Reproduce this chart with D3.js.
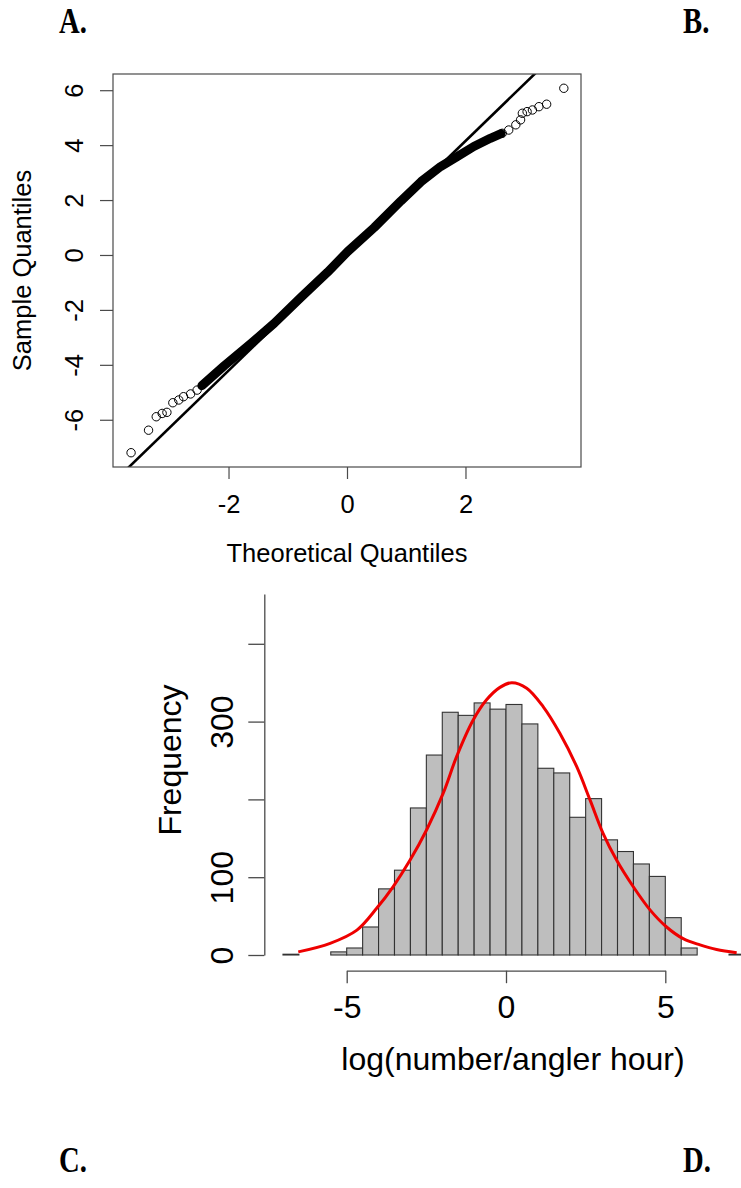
<!DOCTYPE html>
<html>
<head>
<meta charset="utf-8">
<script src="https://cdn.jsdelivr.net/npm/d3@7"></script>
<style>
  body { margin: 0; background: #fff; }
  svg { display: block; }
</style>
</head>
<body>
<div id="figure"></div>
<script>
// ---------- panel A : normal Q-Q plot ----------
// isolated circles in the two tails
const tailTheo   = [-3.645, -3.35, -3.22, -3.12, -3.04, -2.94, -2.84, -2.76, -2.64, -2.53,
                     2.62, 2.73, 2.85, 2.93, 2.96, 3.04, 3.13, 3.24, 3.37, 3.66];
const tailSample = [-7.20, -6.38, -5.89, -5.77, -5.73, -5.38, -5.28, -5.16, -5.06, -4.92,
                     4.43, 4.55, 4.74, 4.92, 5.16, 5.22, 5.28, 5.40, 5.49, 6.07];
// centre of the solid run of overlapping circles
const bandTheo   = [-2.45, -2.07, -1.62, -1.23, -0.78, -0.33, 0.01, 0.46, 0.91, 1.25, 1.58, 1.86, 2.14, 2.42, 2.60];
const bandSample = [-4.76, -4.03, -3.22, -2.49, -1.55, -0.63, 0.12, 1.00, 1.97, 2.67, 3.22, 3.58, 3.95, 4.25, 4.42];
// qqline
const qqIntercept = -0.03;
const qqSlope = 2.09;
const qqXTicks = [-2, 0, 2];
const qqYTicks = [-6, -4, -2, 0, 2, 4, 6];

// ---------- panel C : histogram with fitted normal curve ----------
const binEdges  = [-7, -6.5, -6, -5.5, -5, -4.5, -4, -3.5, -3, -2.5, -2, -1.5, -1, -0.5, 0,
                   0.5, 1, 1.5, 2, 2.5, 3, 3.5, 4, 4.5, 5, 5.5, 6, 6.5, 7, 7.5];
const binCounts = [1, 0, 0, 4, 9, 36, 85, 109, 189, 257, 312, 308, 324, 316, 322,
                   297, 240, 234, 177, 201, 148, 133, 117, 101, 48, 9, 0, 0, 1];
const curveX = [-6.52, -5.52, -4.68, -4.06, -3.54, -3.01, -2.49, -1.97, -1.55, -1.03, -0.61, -0.19, 0.18,
                0.65, 1.17, 1.69, 2.22, 2.64, 3.05, 3.47, 3.99, 4.52, 5.04, 5.56, 6.09, 6.61, 7.24];
const curveY = [4, 15, 32, 60, 88, 122, 161, 208, 255, 302, 328, 344, 350,
                343, 319, 285, 242, 199, 156, 122, 88, 58, 36, 21, 13, 7, 3];
const histXTicks = [-5, 0, 5];
const histYTicks = [0, 100, 200, 300, 400];
const histYLabels = [0, 100, 300];

const width = 741, height = 1188;
const sans = "'Liberation Sans', Arial, sans-serif";
const axisColor = "#4a4a4a";
const plainNum = d => String(d);   // R prints an ascii hyphen, not d3's minus sign

const svg = d3.select("#figure").append("svg")
    .attr("width", width)
    .attr("height", height);
svg.append("rect").attr("width", width).attr("height", height).attr("fill", "#fff");

// panel letters (condensed bold serif)
const letters = [
  {t: "A.", x: 59, y: 33}, {t: "B.", x: 683, y: 33},
  {t: "C.", x: 59, y: 1172}, {t: "D.", x: 683, y: 1172}
];
svg.selectAll(".letter")
  .data(letters)
  .join("text")
    .attr("class", "letter")
    .attr("transform", d => `translate(${d.x},${d.y}) scale(0.82,1)`)
    .style("font-family", "'Liberation Serif', 'Times New Roman', serif")
    .style("font-weight", 700)
    .style("font-size", "35px")
    .text(d => d.t);

// ================= Q-Q plot =================
const qq = {left: 113, top: 74, right: 581, bottom: 467};
const xQ = d3.scaleLinear([-3.95, 3.95], [qq.left, qq.right]);
const yQ = d3.scaleLinear([-7.72, 6.59], [qq.bottom, qq.top]);

svg.append("defs").append("clipPath")
    .attr("id", "qqclip")
  .append("rect")
    .attr("x", qq.left).attr("y", qq.top)
    .attr("width", qq.right - qq.left).attr("height", qq.bottom - qq.top);

const qqPlot = svg.append("g").attr("clip-path", "url(#qqclip)");

// dense body of the sample
qqPlot.append("path")
    .datum(d3.range(bandTheo.length))
    .attr("fill", "none")
    .attr("stroke", "#000")
    .attr("stroke-width", 9)
    .attr("stroke-linecap", "round")
    .attr("stroke-linejoin", "round")
    .attr("d", d3.line(i => xQ(bandTheo[i]), i => yQ(bandSample[i])));

// reference line
const qx0 = -3.95, qx1 = 3.95;
qqPlot.append("line")
    .attr("x1", xQ(qx0)).attr("y1", yQ(qqIntercept + qqSlope * qx0))
    .attr("x2", xQ(qx1)).attr("y2", yQ(qqIntercept + qqSlope * qx1))
    .attr("stroke", "#000")
    .attr("stroke-width", 2.6);

qqPlot.append("g")
  .selectAll("circle")
  .data(d3.range(tailTheo.length))
  .join("circle")
    .attr("cx", i => xQ(tailTheo[i]))
    .attr("cy", i => yQ(tailSample[i]))
    .attr("r", 4.2)
    .attr("fill", "none")
    .attr("stroke", "#000")
    .attr("stroke-width", 1);

svg.append("rect")
    .attr("x", qq.left).attr("y", qq.top)
    .attr("width", qq.right - qq.left).attr("height", qq.bottom - qq.top)
    .attr("fill", "none")
    .attr("stroke", axisColor)
    .attr("stroke-width", 1.2);

const qqXAxis = svg.append("g")
    .attr("transform", `translate(0,${qq.bottom})`)
    .call(d3.axisBottom(xQ).tickValues(qqXTicks).tickSize(12).tickFormat(plainNum));
qqXAxis.select(".domain").remove();
qqXAxis.selectAll(".tick line").attr("stroke", axisColor).attr("stroke-width", 1.2);
qqXAxis.selectAll(".tick text")
    .attr("y", 46).attr("dy", 0)
    .attr("fill", "#000")
    .style("font-family", sans)
    .style("font-size", "25.5px");

const qqYAxis = svg.append("g")
    .attr("transform", `translate(${qq.left},0)`)
    .call(d3.axisLeft(yQ).tickValues(qqYTicks).tickSize(13).tickFormat(plainNum));
qqYAxis.select(".domain").remove();
qqYAxis.selectAll(".tick line").attr("stroke", axisColor).attr("stroke-width", 1.2);
qqYAxis.selectAll(".tick text")
    .attr("x", 0).attr("dy", 0)
    .attr("text-anchor", "middle")
    .attr("transform", "translate(-30,0) rotate(-90)")
    .attr("fill", "#000")
    .style("font-family", sans)
    .style("font-size", "25.5px");

svg.append("text")
    .attr("x", (qq.left + qq.right) / 2)
    .attr("y", 562)
    .attr("text-anchor", "middle")
    .style("font-family", sans)
    .style("font-size", "25.5px")
    .text("Theoretical Quantiles");

svg.append("text")
    .attr("transform", `translate(31,${(qq.top + qq.bottom) / 2}) rotate(-90)`)
    .attr("text-anchor", "middle")
    .style("font-family", sans)
    .style("font-size", "25.5px")
    .text("Sample Quantiles");

// ================= Histogram =================
const hx = d3.scaleLinear([-5, 5], [346.7, 665.3]);
const hy = d3.scaleLinear([0, 464], [955, 594]);

const bins = d3.range(binCounts.length).filter(i => binCounts[i] > 0);
svg.append("g")
  .selectAll("rect")
  .data(bins)
  .join("rect")
    .attr("x", i => hx(binEdges[i]))
    .attr("y", i => hy(binCounts[i]))
    .attr("width", i => hx(binEdges[i + 1]) - hx(binEdges[i]))
    .attr("height", i => hy(0) - hy(binCounts[i]))
    .attr("fill", "#bebebe")
    .attr("stroke", "#333")
    .attr("stroke-width", 1.1);

svg.append("path")
    .datum(d3.range(curveX.length))
    .attr("fill", "none")
    .attr("stroke", "#ee0000")
    .attr("stroke-width", 3)
    .attr("d", d3.line(i => hx(curveX[i]), i => hy(curveY[i])).curve(d3.curveCatmullRom));

const hyAxis = svg.append("g")
    .attr("transform", "translate(264.3,0)")
    .call(d3.axisLeft(hy).tickValues(histYTicks).tickSize(16).tickSizeOuter(0)
      .tickFormat(d => histYLabels.includes(d) ? String(d) : ""));
hyAxis.select(".domain").attr("stroke", axisColor).attr("stroke-width", 1.3);
hyAxis.selectAll(".tick line").attr("stroke", axisColor).attr("stroke-width", 1.3);
hyAxis.selectAll(".tick text")
    .attr("x", 0).attr("dy", 0)
    .attr("text-anchor", "middle")
    .attr("transform", "translate(-31,0) rotate(-90)")
    .attr("fill", "#000")
    .style("font-family", sans)
    .style("font-size", "32px");

// R draws the x axis line only between the outer ticks
const hxAxisScale = hx.copy().domain([-5, 5]).range([hx(-5), hx(5)]);
const hxAxis = svg.append("g")
    .attr("transform", "translate(0,970.7)")
    .call(d3.axisBottom(hxAxisScale).tickValues(histXTicks).tickSize(12.5).tickSizeOuter(0)
      .tickFormat(plainNum));
hxAxis.select(".domain").attr("stroke", axisColor).attr("stroke-width", 1.3);
hxAxis.selectAll(".tick line").attr("stroke", axisColor).attr("stroke-width", 1.3);
hxAxis.selectAll(".tick text")
    .attr("y", 47.5).attr("dy", 0)
    .attr("fill", "#000")
    .style("font-family", sans)
    .style("font-size", "32px");

svg.append("text")
    .attr("x", 513)
    .attr("y", 1070)
    .attr("text-anchor", "middle")
    .style("font-family", sans)
    .style("font-size", "32px")
    .text("log(number/angler hour)");

svg.append("text")
    .attr("transform", "translate(181,760) rotate(-90)")
    .attr("text-anchor", "middle")
    .style("font-family", sans)
    .style("font-size", "32px")
    .text("Frequency");
</script>
</body>
</html>
